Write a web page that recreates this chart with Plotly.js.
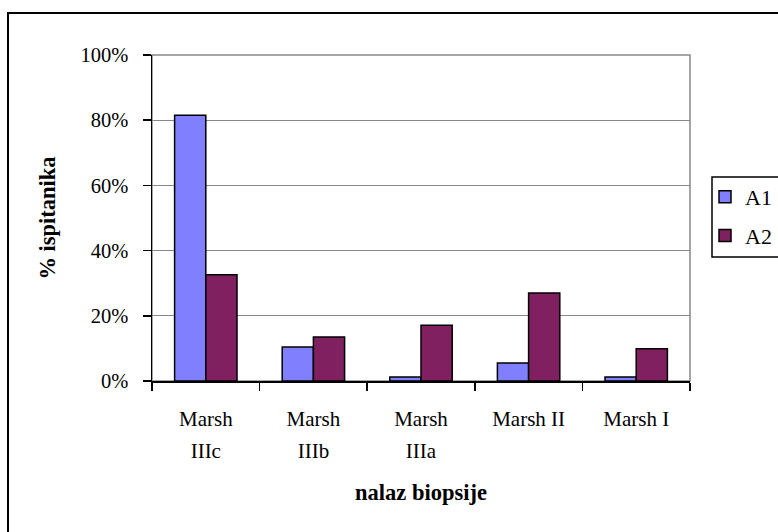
<!DOCTYPE html>
<html>
<head>
<meta charset="utf-8">
<script src="https://cdn.plot.ly/plotly-3.0.1.min.js"></script>
<style>
  html, body { margin: 0; padding: 0; background: #fff; overflow: hidden; }
  #chart { width: 778px; height: 532px; }
</style>
</head>
<body>
<div id="chart"></div>
<script>
// ---- data ----
var categories = ["Marsh<br>IIIc", "Marsh<br>IIIb", "Marsh<br>IIIa", "Marsh II", "Marsh I"];
var seriesNames = ["A1", "A2"];
var valuesA1 = [0.815, 0.104, 0.012, 0.055, 0.012];
var valuesA2 = [0.326, 0.135, 0.171, 0.270, 0.099];
var yTickVals = [0, 0.2, 0.4, 0.6, 0.8, 1.0];
var yTickText = ["0%", "20%", "40%", "60%", "80%", "100%"];
var xTitle = "nalaz biopsije";
var yTitle = "% ispitanika";

var FONT = "Liberation Serif, Times New Roman, serif";
var L = 152, R = 690, T = 55, B = 381, W = 778, H = 532;
function px2x(p) { return (p - L) / (R - L); }
function px2y(p) { return (B - p) / (B - T); }

// category labels: lines drawn at 21px, spaced like the original (wider line gap)
var xTickText = categories.map(function (c) {
  return c.split("<br>").map(function (s) {
    return '<span style="font-size:21px">' + s + '</span>';
  }).join("<br>");
});

var traces = [
  {
    type: "bar", name: seriesNames[0], x: categories, y: valuesA1,
    legendgroup: "g1",
    marker: { color: "#8080FF", line: { color: "#000000", width: 1.5 } },
    hoverinfo: "x+y"
  },
  {
    type: "bar", name: seriesNames[1], x: categories, y: valuesA2,
    legendgroup: "g2",
    marker: { color: "#802060", line: { color: "#000000", width: 1.5 } },
    hoverinfo: "x+y"
  }
];

var layout = {
  width: W, height: H,
  margin: { l: L, r: W - R, t: T, b: H - B, autoexpand: false },
  paper_bgcolor: "#ffffff",
  plot_bgcolor: "#ffffff",
  font: { family: FONT, size: 20, color: "#000000" },
  barmode: "group",
  bargap: 0.42,
  bargroupgap: 0,
  showlegend: true,
  legend: {
    x: px2x(705), y: px2y(176), xanchor: "left", yanchor: "top",
    xref: "paper", yref: "paper",
    borderwidth: 0, bgcolor: "rgba(0,0,0,0)",
    font: { family: FONT, size: 22, color: "#000000" },
    traceorder: "grouped", tracegroupgap: 7
  },
  xaxis: {
    type: "category",
    tickmode: "array", tickvals: categories, ticktext: xTickText,
    showline: true, linecolor: "#000000", linewidth: 1.5,
    ticks: "outside", ticklen: 8, tickcolor: "#000000", tickwidth: 1.5,
    tickson: "boundaries",
    ticklabelstandoff: 14,
    showgrid: false, zeroline: false,
    tickfont: { family: FONT, size: 24.5, color: "#000000" },
    title: { text: "<b>" + xTitle + "</b>", font: { family: FONT, size: 22.5, color: "#000000" }, standoff: 22 }
  },
  yaxis: {
    range: [0, 1], fixedrange: true,
    tickvals: yTickVals, ticktext: yTickText,
    showline: true, linecolor: "#000000", linewidth: 1.5,
    ticks: "outside", ticklen: 8, tickcolor: "#000000", tickwidth: 1.5,
    ticklabelstandoff: 10,
    showgrid: true, gridcolor: "#888888", gridwidth: 1.2,
    zeroline: false,
    tickfont: { family: FONT, size: 20.5, color: "#000000" },
    title: { text: "<b>" + yTitle + "</b>", font: { family: FONT, size: 22.5, color: "#000000" }, standoff: 18 }
  },
  shapes: [
    // plot area border (gray)
    { type: "rect", xref: "paper", yref: "paper", x0: 0, x1: 1, y0: 0, y1: 1,
      line: { color: "#888888", width: 1.5 }, layer: "below" },
    // legend frame (black), cut off at the right edge like the original
    { type: "rect", xref: "paper", yref: "paper",
      x0: px2x(712), x1: px2x(800), y0: px2y(257), y1: px2y(177),
      line: { color: "#000000", width: 1.5 } },
    // outer chart border (black), cut off at right and bottom
    { type: "rect", xref: "paper", yref: "paper",
      x0: px2x(8), x1: px2x(800), y0: px2y(560), y1: px2y(13),
      line: { color: "#000000", width: 2 } }
  ]
};

Plotly.newPlot("chart", traces, layout, { displayModeBar: false, staticPlot: true });
</script>
</body>
</html>
